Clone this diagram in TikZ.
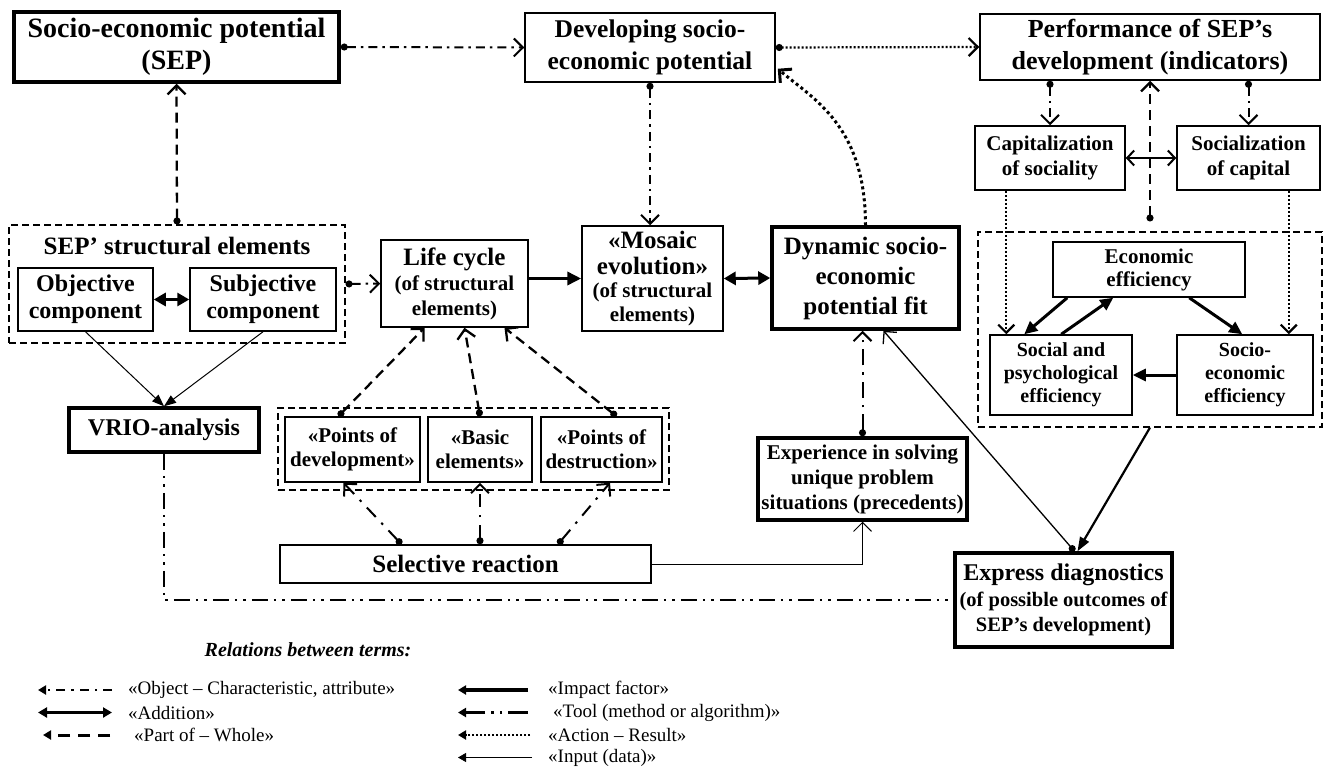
\documentclass[tikz,border=0pt]{standalone}
\usepackage{fontspec}
\setmainfont{Liberation Serif}
\usetikzlibrary{arrows.meta,calc}
\newcommand\fz[2]{\fontsize{#1pt}{#2pt}\selectfont}
\begin{document}
\begin{tikzpicture}[x=1pt,y=-1pt,
  box/.style={draw, line width=1.5pt, inner sep=0pt, align=center, font=\bfseries\fz{21}{24}},
  thick box/.style={box, line width=3.5pt},
  group/.style={draw, line width=1.1pt, dash pattern=on 7pt off 4pt, inner sep=0pt},
  oattr/.style={line width=2pt, dash pattern=on 9pt off 5pt on 2.5pt off 5pt, {Circle[length=7pt]}-{Straight Barb[length=9pt,width=18pt]}},
  selto/.style={line width=2pt, dash pattern=on 13pt off 8pt on 2.5pt off 8pt, {Circle[length=7pt]}-{Straight Barb[length=9pt,width=18pt]}},
  tooltip/.style={line width=2pt, dash pattern=on 16pt off 7pt on 2.5pt off 7pt, {Circle[length=7pt]}-{Straight Barb[length=9pt,width=18pt]}},
  pwhole/.style={line width=2.3pt, dash pattern=on 10pt off 6pt, {Circle[length=7pt]}-{Straight Barb[length=9pt,width=18pt]}},
  actres/.style={line width=2.2pt, dash pattern=on 2pt off 2pt, {Circle[length=7pt]}-{Straight Barb[length=9pt,width=18pt]}},
  actopen/.style={line width=2.2pt, dash pattern=on 2pt off 2pt, -{Straight Barb[length=8pt,width=16pt]}},
  curvedot/.style={line width=3pt, dash pattern=on 3pt off 3pt, -{Straight Barb[length=9pt,width=18pt]}},
  tool/.style={line width=2.2pt, dash pattern=on 16pt off 6pt on 2.5pt off 6pt on 2.5pt off 6pt},
  impact/.style={line width=3.5pt, -{Triangle[length=14pt,width=13pt]}},
  impacttwo/.style={line width=3pt, -{Triangle[length=13pt,width=12pt]}},
  effarrow/.style={line width=2.2pt, -{Triangle[length=14pt,width=10pt]}},
  addition/.style={line width=3pt, {Triangle[length=12pt,width=13pt]}-{Triangle[length=12pt,width=13pt]}},
  capsoc/.style={line width=2pt, {Straight Barb[length=7pt,width=15pt]}-{Straight Barb[length=7pt,width=15pt]}},
  input/.style={line width=1pt, -{Triangle[length=12pt,width=9pt]}},
  inputopen/.style={line width=1pt, -{Straight Barb[length=9pt,width=18pt]}},
  legtext/.style={anchor=west, inner sep=0pt, font=\fz{19}{22}},
  lhead/.style={-{Triangle[length=8pt,width=9pt]}}
]
\useasboundingbox (0,0) rectangle (1325,774);

% top row
\node[thick box, minimum width=325pt, minimum height=70pt, font=\bfseries\fz{28}{32}] (sep) at (176.5,47) {Socio-economic potential\\(SEP)};
\node[box, minimum width=250pt, minimum height=69pt, font=\bfseries\fz{25.5}{32}] (dev) at (650,47.5) {Developing socio-\\economic potential};
\node[box, minimum width=340pt, minimum height=66pt, font=\bfseries\fz{26}{32}] (perf) at (1150,47) {Performance of SEP’s\\development (indicators)};

% right cluster
\node[box, minimum width=150pt, minimum height=64pt, font=\bfseries\fz{21}{25}] (cap) at (1050,158) {Capitalization\\of sociality};
\node[box, minimum width=143pt, minimum height=64pt, font=\bfseries\fz{21}{25}] (soc) at (1248.5,158) {Socialization\\of capital};
\node[group, minimum width=344pt, minimum height=195pt] (effbox) at (1150,329.5) {};
\node[box, minimum width=192pt, minimum height=55pt, font=\bfseries\fz{21}{23}] (econ) at (1149,269.5) {Economic\\efficiency};
\node[box, minimum width=142pt, minimum height=80pt, font=\bfseries\fz{20}{23}] (social) at (1061,375) {Social and\\psychological\\efficiency};
\node[box, minimum width=136pt, minimum height=80pt, font=\bfseries\fz{20}{23}] (socioeco) at (1245,375) {Socio-\\economic\\efficiency};

% left / middle
\node[group, minimum width=336pt, minimum height=118pt] (struct) at (177,284) {};
\node[inner sep=0pt, font=\bfseries\fz{25}{28}] (structlbl) at (177,246) {SEP’ structural elements};
\node[box, minimum width=135pt, minimum height=63pt, font=\bfseries\fz{24}{27}] (obj) at (85.5,299.5) {Objective\\component};
\node[box, minimum width=146pt, minimum height=63pt, font=\bfseries\fz{24}{27}] (subj) at (263,299.5) {Subjective\\component};
\node[box, minimum width=147pt, minimum height=87pt, font=\bfseries\fz{21}{25}] (life) at (454.5,283.5) {{\fz{25}{25}Life cycle}\\(of structural\\elements)};
\node[box, minimum width=141pt, minimum height=105pt, font=\bfseries\fz{21}{23.5}] (mosaic) at (652.5,278.5) {{\fz{25}{25}«Mosaic}\\[2pt]{\fz{25}{25}evolution»}\\(of structural\\elements)};
\node[thick box, minimum width=187pt, minimum height=102pt, font=\bfseries\fz{25}{30}] (dyn) at (865.5,278) {Dynamic socio-\\economic\\potential fit};
\node[thick box, minimum width=190pt, minimum height=44pt, font=\bfseries\fz{24}{28}] (vrio) at (164,430) {VRIO-analysis};
\node[group, minimum width=391pt, minimum height=82pt] (ptsbox) at (473.5,449) {};
\node[box, minimum width=135pt, minimum height=65pt, font=\bfseries\fz{21}{24}] (ptdev) at (352.5,449.5) {«Points of\\development»};
\node[box, minimum width=104pt, minimum height=65pt, font=\bfseries\fz{21}{24}] (basic) at (480,449.5) {«Basic\\elements»};
\node[box, minimum width=121pt, minimum height=65pt, font=\bfseries\fz{21}{24}] (ptdes) at (601.5,449.5) {«Points of\\destruction»};
\node[box, minimum width=371pt, minimum height=38pt, font=\bfseries\fz{25}{28}] (sel) at (465.5,564) {Selective reaction};
\node[thick box, minimum width=209pt, minimum height=82pt, font=\bfseries\fz{21}{25}] (exp) at (862.5,479) {Experience in solving\\unique problem\\situations (precedents)};
\node[thick box, minimum width=217pt, minimum height=94pt, font=\bfseries\fz{20.5}{25}] (expr) at (1063.5,600) {{\fz{24}{24}Express diagnostics}\\[1pt](of possible outcomes of\\SEP’s development)};

% connectors
\draw[oattr] (sep.east) -- (dev.west);
\draw[actres] (dev.east) -- (perf.west);
\draw[pwhole] (struct.north) -- (sep.south);
\draw[addition] (obj.east) -- (subj.west);
\draw[oattr] (struct.east) -- (life.west);
\draw[input] (obj.south) -- (vrio.north);
\draw[input] (subj.south) -- (vrio.north);
\draw[impact] (mosaic.west -| life.east) -- (mosaic.west);
\draw[addition] (mosaic.east) -- (dyn.west);
\draw[oattr] (dev.south) -- (dev.south |- mosaic.north);
\draw[curvedot] (dyn.north) .. controls +(0,-100) and +(35,30) .. ($(dev.south east)+(2,-14)$);

\draw[pwhole] ($(ptdev.north)+(-14,0)$) -- ($(life.south)+(-30,0)$);
\draw[pwhole] (basic.north) -- ($(life.south)+(10,0)$);
\draw[pwhole] ($(ptdes.north)+(15,0)$) -- ($(life.south)+(50,0)$);

\draw[selto] ($(sel.north)+(-64,0)$) -- ($(ptdev.south)+(-9,0)$);
\draw[selto] ($(sel.north)+(14.5,0)$) -- (basic.south);
\draw[selto] ($(sel.north)+(92.5,0)$) -- ($(ptdes.south)+(8.5,0)$);

\draw[inputopen] (sel.east) -| (exp.south);
\draw[tooltip] (exp.north) -- (exp.north |- dyn.south);
\draw[line width=1.3pt, {Circle[length=7pt]}-{Straight Barb[length=9pt,width=18pt]}] ($(expr.north)+(11,0)$) -- ($(dyn.south)+(18,0)$);
\draw[effarrow] (effbox.south) -- ($(expr.north)+(14,0)$);
\draw[tool] (vrio.south) |- (expr.west);

\draw[oattr] (perf.south -| cap.north) -- (cap.north);
\draw[oattr] (perf.south -| soc.north) -- (soc.north);
\draw[pwhole, shorten <=10pt] (effbox.north) -- (perf.south);
\draw[capsoc] (cap.east) -- (soc.west);
\coordinate (c1) at ($(cap.south west)+(32,0)$);
\coordinate (c2) at ($(soc.south east)+(-32,0)$);
\draw[actopen] (c1) -- (c1 |- social.north);
\draw[actopen] (c2) -- (c2 |- socioeco.north);

\draw[impacttwo] ($(econ.south west)+(15,0)$) -- ($(social.north west)+(35,0)$);
\draw[impacttwo] ($(social.north west)+(72,0)$) -- ($(econ.south west)+(61,0)$);
\draw[impacttwo] ($(econ.south west)+(137,0)$) -- ($(socioeco.north west)+(66,0)$);
\draw[impacttwo] (socioeco.west) -- (social.east);

% legend
\node[inner sep=0pt, font=\bfseries\itshape\fz{20}{23}] (legtitle) at (308,650) {Relations between terms:};
\node[legtext] (lg1) at (128,690) {«Object – Characteristic, attribute»};
\node[legtext] (lg2) at (128,712.5) {«Addition»};
\node[legtext] (lg3) at (134,735) {«Part of – Whole»};
\node[legtext] (lg4) at (548,690) {«Impact factor»};
\node[legtext] (lg5) at (553,712.5) {«Tool (method or algorithm)»};
\node[legtext] (lg6) at (548,735) {«Action – Result»};
\node[legtext] (lg7) at (548,757.5) {«Input (data)»};

\draw[lhead, line width=2.2pt, dash pattern=on 9pt off 6pt on 2.5pt off 6pt] ($(lg1.west)+(-16,0)$) -- ($(lg1.west)+(-90,0)$);
\draw[line width=2.8pt, {Triangle[length=9pt,width=10pt]}-{Triangle[length=9pt,width=10pt]}] ($(lg2.west)+(-90,0)$) -- ($(lg2.west)+(-16,0)$);
\draw[lhead, line width=3pt, dash pattern=on 12pt off 8pt] ($(lg3.west)+(-24,0)$) -- ($(lg3.west)+(-91,0)$);
\draw[lhead, line width=3.5pt] ($(lg4.west)+(-20,0)$) -- ($(lg4.west)+(-90,0)$);
\draw[lhead, line width=2.2pt, dash pattern=on 20pt off 6pt on 2.5pt off 6pt on 2.5pt off 6pt] ($(lg5.west)+(-25,0)$) -- ($(lg5.west)+(-95,0)$);
\draw[lhead, line width=2.2pt, dash pattern=on 2pt off 2pt] ($(lg6.west)+(-18,0)$) -- ($(lg6.west)+(-90,0)$);
\draw[lhead, line width=0.8pt] ($(lg7.west)+(-16,0)$) -- ($(lg7.west)+(-90,0)$);
\end{tikzpicture}
\end{document}
